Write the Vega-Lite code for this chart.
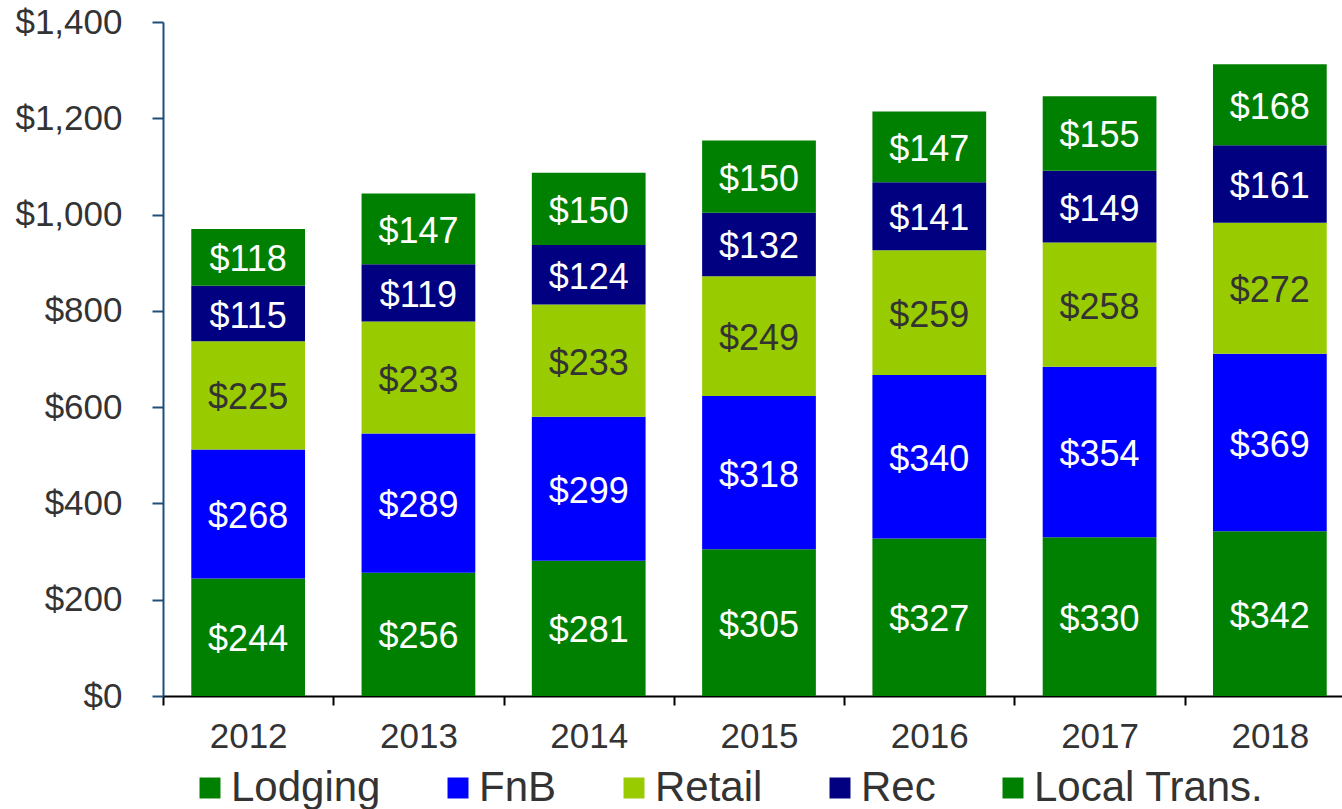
{
  "$schema": "https://vega.github.io/schema/vega-lite/v6.json",
  "width": 1179,
  "height": 674,
  "autosize": {"type": "none"},
  "padding": {"left": 163, "top": 22, "right": 0, "bottom": 113},
  "background": "white",
  "config": {"view": {"stroke": null}, "font": "Liberation Sans"},
  "data": {
    "values": [
      {"year": "2012", "series": "Lodging", "value": 244},
      {"year": "2012", "series": "FnB", "value": 268},
      {"year": "2012", "series": "Retail", "value": 225},
      {"year": "2012", "series": "Rec", "value": 115},
      {"year": "2012", "series": "Local Trans.", "value": 118},
      {"year": "2013", "series": "Lodging", "value": 256},
      {"year": "2013", "series": "FnB", "value": 289},
      {"year": "2013", "series": "Retail", "value": 233},
      {"year": "2013", "series": "Rec", "value": 119},
      {"year": "2013", "series": "Local Trans.", "value": 147},
      {"year": "2014", "series": "Lodging", "value": 281},
      {"year": "2014", "series": "FnB", "value": 299},
      {"year": "2014", "series": "Retail", "value": 233},
      {"year": "2014", "series": "Rec", "value": 124},
      {"year": "2014", "series": "Local Trans.", "value": 150},
      {"year": "2015", "series": "Lodging", "value": 305},
      {"year": "2015", "series": "FnB", "value": 318},
      {"year": "2015", "series": "Retail", "value": 249},
      {"year": "2015", "series": "Rec", "value": 132},
      {"year": "2015", "series": "Local Trans.", "value": 150},
      {"year": "2016", "series": "Lodging", "value": 327},
      {"year": "2016", "series": "FnB", "value": 340},
      {"year": "2016", "series": "Retail", "value": 259},
      {"year": "2016", "series": "Rec", "value": 141},
      {"year": "2016", "series": "Local Trans.", "value": 147},
      {"year": "2017", "series": "Lodging", "value": 330},
      {"year": "2017", "series": "FnB", "value": 354},
      {"year": "2017", "series": "Retail", "value": 258},
      {"year": "2017", "series": "Rec", "value": 149},
      {"year": "2017", "series": "Local Trans.", "value": 155},
      {"year": "2018", "series": "Lodging", "value": 342},
      {"year": "2018", "series": "FnB", "value": 369},
      {"year": "2018", "series": "Retail", "value": 272},
      {"year": "2018", "series": "Rec", "value": 161},
      {"year": "2018", "series": "Local Trans.", "value": 168}
    ]
  },
  "transform": [
    {"stack": "value", "groupby": ["year"], "as": ["v0", "v1"]},
    {"calculate": "(datum.v0 + datum.v1) / 2", "as": "mid"}
  ],
  "layer": [
    {
      "mark": {"type": "bar", "opacity": 1},
      "encoding": {
        "x": {
          "field": "year",
          "type": "ordinal",
          "scale": {"range": [0, 1192], "paddingInner": 0.332, "paddingOuter": 0.166},
          "axis": {
            "title": null,
            "labelAngle": 0,
            "tickOffset": -85.15,
            "labelOffset": 85.15,
            "domainColor": "#000000",
            "domainWidth": 2,
            "tickColor": "#000000",
            "tickWidth": 2,
            "tickSize": 9,
            "labelFontSize": 35,
            "labelFont": "Liberation Sans",
            "labelColor": "#333333",
            "labelPadding": 14
          }
        },
        "y": {
          "field": "v0",
          "type": "quantitative",
          "scale": {"domain": [0, 1400], "nice": false},
          "axis": {
            "title": null,
            "values": [0, 200, 400, 600, 800, 1000, 1200, 1400],
            "format": "$,.0f",
            "grid": false,
            "domainColor": "#1F4E79",
            "domainWidth": 2,
            "tickColor": "#1F4E79",
            "tickWidth": 2,
            "tickSize": 11,
            "labelFontSize": 35,
            "labelFont": "Liberation Sans",
            "labelColor": "#333333",
            "labelPadding": 30
          }
        },
        "y2": {"field": "v1"},
        "color": {
          "field": "series",
          "type": "nominal",
          "sort": ["Lodging", "FnB", "Retail", "Rec", "Local Trans."],
          "scale": {
            "domain": ["Lodging", "FnB", "Retail", "Rec", "Local Trans."],
            "range": ["#008000", "#0000FF", "#99CC00", "#000080", "#008000"]
          },
          "legend": {
            "orient": "none",
            "legendX": 26,
            "legendY": 745,
            "direction": "horizontal",
            "title": null,
            "labelFontSize": 42,
            "labelFont": "Liberation Sans",
            "labelColor": "#333333",
            "labelLimit": 500,
            "symbolType": "square",
            "symbolSize": 440,
            "symbolStrokeWidth": 0,
            "symbolOpacity": 1,
            "labelOffset": 0,
            "columnPadding": 56,
            "padding": 0
          }
        }
      }
    },
    {
      "mark": {"type": "text", "fontSize": 36, "font": "Liberation Sans", "dy": 3},
      "encoding": {
        "x": {"field": "year", "type": "ordinal"},
        "y": {"field": "mid", "type": "quantitative"},
        "text": {"field": "value", "type": "quantitative", "format": "$,.0f"},
        "color": {
          "condition": {"test": "datum.series === 'Retail'", "value": "#333333"},
          "value": "#ffffff"
        }
      }
    }
  ]
}
